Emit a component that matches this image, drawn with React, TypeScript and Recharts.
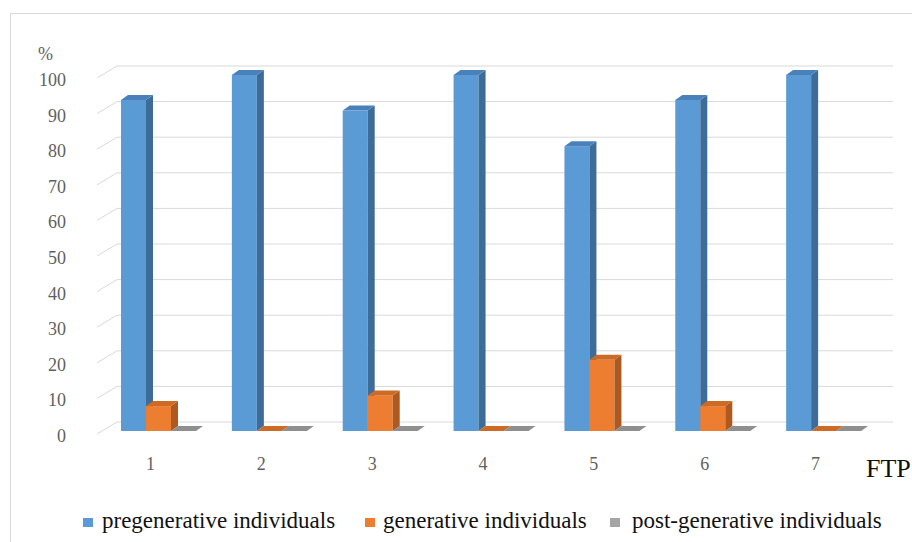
import React from 'react';
import { BarChart, Bar, XAxis, YAxis, CartesianGrid } from 'recharts';

const categories = ['1', '2', '3', '4', '5', '6', '7'];
const pregenerative = [93, 100, 90, 100, 80, 93, 100];
const generative = [7, 0, 10, 0, 20, 7, 0];
const postGenerative = [0, 0, 0, 0, 0, 0, 0];
const yTicks = [0, 10, 20, 30, 40, 50, 60, 70, 80, 90, 100];

const seriesNames = [
  'pregenerative individuals',
  'generative individuals',
  'post-generative individuals',
];

const data = categories.map((c, i) => ({
  cat: c,
  pre: pregenerative[i],
  gen: generative[i],
  post: postGenerative[i],
}));

const SERIF = 'Liberation Serif, Tinos, DejaVu Serif, serif';

// depth of the fake 3d bars
const DX = 7;
const DY = -5;

const palette = [
  { front: '#5b9bd5', side: '#3d6c99', top: '#4b81bb' },
  { front: '#ed7d31', side: '#ad591f', top: '#cd6a26' },
  { front: '#a5a5a5', side: '#7a7a7a', top: '#8f8f8f' },
];

const Bar3D = (props: any) => {
  const { x, y, width, height, colors } = props;
  const w = width;
  const h = Math.max(0, height || 0);
  const top = `${x},${y} ${x + DX},${y + DY} ${x + w + DX},${y + DY} ${x + w},${y}`;
  if (h < 0.5) {
    return <polygon points={top} fill={colors.top} />;
  }
  const side = `${x + w},${y} ${x + w + DX},${y + DY} ${x + w + DX},${y + h + DY} ${x + w},${y + h}`;
  return (
    <g>
      <rect x={x} y={y} width={w} height={h} fill={colors.front} />
      <polygon points={side} fill={colors.side} />
      <polygon points={top} fill={colors.top} />
    </g>
  );
};

// back wall gridline + slanted line on the side wall
const GridLine = (props: any) => {
  const { x1, x2, y1 } = props;
  return (
    <g key={props.key}>
      <line x1={x1 - 6} y1={y1 + 3} x2={x1 + 14} y2={y1 - 9} stroke="#d9d9d9" strokeWidth={1} />
      <line x1={x1 + 14} y1={y1 - 9} x2={x2 + 14} y2={y1 - 9} stroke="#d9d9d9" strokeWidth={1} />
    </g>
  );
};

const YTick = (props: any) => {
  const { y, payload } = props;
  return (
    <text x={66} y={y + 11} textAnchor="end" style={{ fontFamily: SERIF }} fontSize={18} fill="#5f5f5f">
      {payload.value}
    </text>
  );
};

const XTick = (props: any) => {
  const { x, y, payload } = props;
  return (
    <text x={x - 8} y={y + 31} textAnchor="middle" style={{ fontFamily: SERIF }} fontSize={18} fill="#5f5f5f">
      {payload.value}
    </text>
  );
};

const legendPos = [
  { sq: 83, tx: 102 },
  { sq: 365, tx: 383 },
  { sq: 610, tx: 632 },
];

export default function App() {
  return (
    <div
      style={{
        position: 'absolute',
        left: 0,
        top: 0,
        width: 912,
        height: 542,
        overflow: 'hidden',
        background: '#fff',
        fontFamily: SERIF,
      }}
    >
      <div
        style={{
          position: 'absolute',
          left: 10,
          top: 13,
          width: 920,
          height: 540,
          borderTop: '1px solid #d9d9d9',
          borderLeft: '1px solid #d9d9d9',
        }}
      />
      <BarChart
        width={912}
        height={542}
        data={data}
        margin={{ top: 75, right: 33, left: 0, bottom: 0 }}
        barSize={25}
        barGap={0}
        style={{ position: 'absolute', left: 0, top: 0 }}
      >
        <CartesianGrid vertical={false} horizontal={(p: any) => <GridLine {...p} />} />
        <XAxis
          dataKey="cat"
          height={111}
          axisLine={false}
          tickLine={false}
          tick={<XTick />}
          interval={0}
        />
        <YAxis
          width={103}
          domain={[0, 100]}
          ticks={yTicks}
          interval={0}
          axisLine={false}
          tickLine={false}
          tick={<YTick />}
        />
        <Bar dataKey="pre" isAnimationActive={false} shape={(p: any) => <Bar3D {...p} colors={palette[0]} />} />
        <Bar dataKey="gen" isAnimationActive={false} shape={(p: any) => <Bar3D {...p} colors={palette[1]} />} />
        <Bar dataKey="post" isAnimationActive={false} shape={(p: any) => <Bar3D {...p} colors={palette[2]} />} />
      </BarChart>
      <div
        style={{
          position: 'absolute',
          left: 38,
          top: 44,
          fontSize: 18,
          color: '#5f5f5f',
          lineHeight: '20px',
        }}
      >
        %
      </div>
      <div
        style={{
          position: 'absolute',
          left: 866,
          top: 454,
          fontSize: 26,
          color: '#111',
          lineHeight: '30px',
          whiteSpace: 'nowrap',
        }}
      >
        FTP
      </div>
      {seriesNames.map((name, i) => (
        <React.Fragment key={name}>
          <div
            style={{
              position: 'absolute',
              left: legendPos[i].sq,
              top: 518,
              width: 10,
              height: 9,
              background: palette[i].front,
            }}
          />
          <div
            style={{
              position: 'absolute',
              left: legendPos[i].tx,
              top: 507,
              fontSize: 23,
              lineHeight: '28px',
              color: '#111',
              whiteSpace: 'nowrap',
            }}
          >
            {name}
          </div>
        </React.Fragment>
      ))}
    </div>
  );
}
